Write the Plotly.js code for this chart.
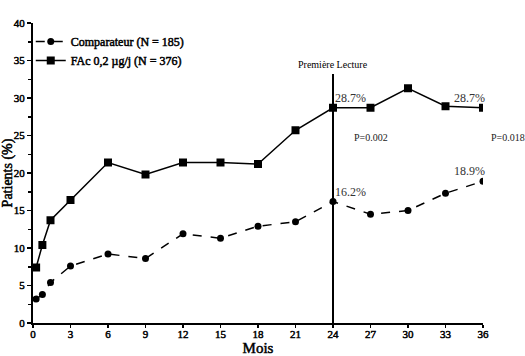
<!DOCTYPE html>
<html><head><meta charset="utf-8">
<script src="https://cdn.plot.ly/plotly-3.0.1.min.js"></script>
<style>
body{margin:0;background:#fff}#c{width:525px;height:356px}
/* faux bold for the serif labels (no bold serif face installed) */
#c .legendtext, #c .xtick text, #c .ytick text, #c .xtitle, #c .ytitle{stroke:#000;stroke-width:0.5px;}
</style>
</head><body><div id="c"></div>
<script>
const months = [0.25, 0.75, 1.4, 3, 6, 9, 12, 15, 18, 21, 24, 27, 30, 33, 36];
const comparateur = [3.2, 3.8, 5.4, 7.6, 9.2, 8.6, 11.9, 11.3, 12.9, 13.5, 16.2, 14.5, 15.0, 17.3, 18.9];
const fac = [7.4, 10.4, 13.7, 16.4, 21.4, 19.8, 21.4, 21.4, 21.2, 25.7, 28.7, 28.7, 31.3, 28.9, 28.7];
const xTicks = [0, 3, 6, 9, 12, 15, 18, 21, 24, 27, 30, 33, 36];
const seriesNames = ["Comparateur (N = 185)", "FAc 0,2 µg/j (N = 376)"];
const firstReadMonth = 24;
const firstReadTop = 33.2;
const notes = [
  {x: 24, y: 28.7, text: "28.7%"},
  {x: 36, y: 28.7, text: "28.7%"},
  {x: 24, y: 16.2, text: "16.2%"},
  {x: 36, y: 18.9, text: "18.9%"}
];
const pNotes = [
  {x: 25.5, y: 24.7, text: "P=0.002"},
  {x: 36.5, y: 24.7, text: "P=0.018"}
];

const serif = "Liberation Serif";
const traces = [
  {x: months, y: comparateur, name: seriesNames[0], mode: "lines+markers",
   line: {color: "#000", width: 1.5, dash: "dash"}, marker: {symbol: "circle", size: 7, color: "#000"}},
  {x: months, y: fac, name: seriesNames[1], mode: "lines+markers",
   line: {color: "#000", width: 1.5}, marker: {symbol: "square", size: 8, color: "#000"}}
];
const annotations = notes.map(n => ({x: n.x, y: n.y, text: n.text, showarrow: false,
  xanchor: n.x === 36 ? "right" : "left", yanchor: "bottom", xshift: n.x === 36 ? 4 : 0, yshift: 1,
  font: {family: serif, size: 12, color: "#333"}}))
.concat(pNotes.map(n => ({x: n.x, y: n.y, text: n.text, showarrow: false, xanchor: "left",
  font: {family: serif, size: 10, color: "#222"}})))
.concat([{x: firstReadMonth, y: firstReadTop, text: "Première Lecture", showarrow: false,
  yanchor: "bottom", yshift: 2, font: {family: serif, size: 10, color: "#000"}}]);
// keep the annotation beyond the axis range visible by placing it in paper coords
annotations.forEach(a => { if (a.x > 36) { a.xref = "paper"; a.x = a.x / 36; } });

const layout = {
  width: 525, height: 356,
  margin: {l: 33, r: 42, t: 23, b: 33},
  paper_bgcolor: "#fff", plot_bgcolor: "#fff",
  showlegend: true,
  legend: {x: -0.005, y: 0.987, xanchor: "left", yanchor: "top", bgcolor: "rgba(0,0,0,0)",
    font: {family: serif, size: 12, color: "#000"}, itemwidth: 30, tracegroupgap: 0},
  xaxis: {range: [0, 36], tickvals: xTicks, showgrid: false, zeroline: false,
    showline: true, linecolor: "#000", linewidth: 2, ticks: "outside", ticklen: 3, tickwidth: 1.5, tickcolor: "#000",
    ticklabelstandoff: -3,
    tickfont: {family: serif, size: 11, color: "#000"},
    title: {text: "Mois", standoff: 0, font: {family: serif, size: 15, color: "#000"}}},
  yaxis: {range: [0, 40], dtick: 5, showgrid: false, zeroline: false,
    showline: true, linecolor: "#000", linewidth: 2, ticks: "outside", ticklen: 4, tickwidth: 1.5, tickcolor: "#000",
    minor: {dtick: 2.5, ticks: "outside", ticklen: 3, tickcolor: "#000", showgrid: false},
    tickfont: {family: serif, size: 11, color: "#000"},
    title: {text: "Patients (%)", standoff: 4, font: {family: serif, size: 14, color: "#000"}}},
  shapes: [{type: "line", xref: "x", yref: "y", x0: firstReadMonth, x1: firstReadMonth, y0: 0, y1: firstReadTop,
    line: {color: "#000", width: 2}}],
  annotations: annotations
};
Plotly.newPlot("c", traces, layout, {displayModeBar: false, staticPlot: true});
</script></body></html>
